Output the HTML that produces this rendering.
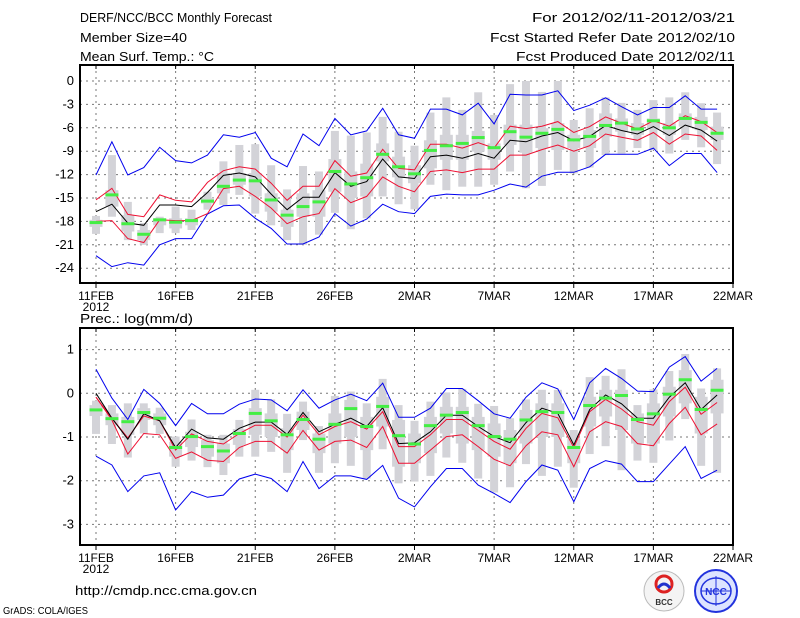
<!DOCTYPE html>
<html><head><meta charset="utf-8">
<style>
html,body{margin:0;padding:0;background:#fff;}
svg{display:block;}
text{font-family:"Liberation Sans",sans-serif;font-size:13px;fill:#000;}
</style></head>
<body>
<svg id="chart" width="800" height="618" viewBox="0 0 800 618" xmlns="http://www.w3.org/2000/svg">
  <g>
    <text x="80" y="22" textLength="192" lengthAdjust="spacingAndGlyphs">DERF/NCC/BCC Monthly Forecast</text>
    <text x="80" y="42" textLength="107" lengthAdjust="spacingAndGlyphs">Member Size=40</text>
    <text x="80" y="61" textLength="134" lengthAdjust="spacingAndGlyphs">Mean Surf. Temp.: °C</text>
    <text x="735" y="22" text-anchor="end" textLength="203" lengthAdjust="spacingAndGlyphs">For 2012/02/11-2012/03/21</text>
    <text x="735" y="42" text-anchor="end" textLength="245" lengthAdjust="spacingAndGlyphs">Fcst Started Refer Date 2012/02/10</text>
    <text x="735" y="61" text-anchor="end" textLength="219" lengthAdjust="spacingAndGlyphs">Fcst Produced Date 2012/02/11</text>
  </g>
  <g id="top"></g>
  <text x="80" y="323" textLength="113" lengthAdjust="spacingAndGlyphs">Prec.: log(mm/d)</text>
  <g id="bot"></g>
  <text x="75" y="595" textLength="182" lengthAdjust="spacingAndGlyphs">http://cmdp.ncc.cma.gov.cn</text>
  <text x="3" y="614" style="font-size:10px" textLength="85" lengthAdjust="spacingAndGlyphs">GrADS: COLA/IGES</text>
  <g>
    <circle cx="664" cy="591" r="20" fill="#f4f4f4" stroke="#bbb" stroke-width="1"/>
    <circle cx="664" cy="584" r="8" fill="none" stroke="#d22" stroke-width="3"/>
    <path d="M658 588 q6 -8 12 0" fill="none" stroke="#23c" stroke-width="3"/>
    <text x="664" y="605" text-anchor="middle" style="font-size:8px;font-weight:bold;fill:#333">BCC</text>
  </g>
  <g>
    <circle cx="716" cy="591" r="21" fill="#dde4ff" stroke="#2233dd" stroke-width="2"/>
    <ellipse cx="716" cy="591" rx="15" ry="13" fill="none" stroke="#2233dd" stroke-width="1.5"/>
    <line x1="701" y1="591" x2="731" y2="591" stroke="#2233dd"/>
    <line x1="716" y1="576" x2="716" y2="606" stroke="#2233dd"/>
    <text x="716" y="595" text-anchor="middle" style="font-size:10px;font-weight:bold;fill:#2233dd">NCC</text>
  </g>
</svg>
<script>
// ---------- data: temperature (°C) ----------
const dayLabels = ["11FEB","16FEB","21FEB","26FEB","2MAR","7MAR","12MAR","17MAR","22MAR"];
const tTicks = [0,-3,-6,-9,-12,-15,-18,-21,-24];
const tMean = [-16.75,-15.8,-18.2,-18.5,-15.9,-15.9,-16.1,-14.3,-12.1,-11.8,-12.3,-14.5,-16.5,-14.9,-14.9,-11.75,-13.5,-12.9,-10.0,-12.3,-12.5,-9.7,-9.5,-9.9,-9.3,-9.9,-7.6,-7.8,-7.05,-6.6,-7.65,-7.1,-5.7,-6.35,-6.8,-5.85,-7.0,-5.65,-6.3,-7.7];
const tRedHi = [-15.25,-13.75,-17.1,-17.4,-14.6,-15.3,-15.5,-13.0,-11.5,-11.0,-11.3,-13.1,-15.3,-13.5,-13.5,-10.2,-12.2,-11.8,-8.75,-11.2,-11.4,-8.1,-8.1,-8.6,-7.9,-8.6,-5.8,-6.1,-5.8,-5.2,-6.6,-5.85,-4.6,-5.4,-6.15,-5.1,-5.8,-4.45,-5.2,-6.6];
const tRedLo = [-18.0,-17.9,-20.2,-20.7,-17.8,-17.9,-17.9,-17.0,-13.8,-13.5,-14.8,-16.3,-18.3,-17.4,-17.0,-13.8,-15.6,-14.8,-12.3,-13.5,-14.2,-11.6,-11.4,-11.75,-11.3,-11.3,-9.5,-9.5,-8.8,-8.2,-9.0,-8.3,-6.8,-7.2,-7.6,-6.6,-8.1,-6.8,-7.05,-8.9];
const tBlueHi = [-12.05,-7.8,-12.05,-11.1,-8.5,-10.2,-10.5,-9.5,-6.9,-7.2,-6.6,-9.9,-11.0,-6.8,-8.3,-4.8,-6.9,-6.4,-3.5,-6.9,-7.35,-3.6,-3.6,-4.35,-2.85,-5.5,-1.7,-1.8,-1.8,-1.25,-3.8,-3.1,-2.15,-3.3,-4.35,-3.4,-3.4,-1.9,-3.6,-3.6];
const tBlueLo = [-22.4,-23.8,-23.3,-23.6,-21.0,-20.2,-20.2,-17.05,-16.0,-15.9,-17.6,-18.9,-20.9,-20.9,-20.0,-17.0,-18.6,-17.7,-15.8,-16.75,-17.0,-14.8,-14.5,-14.6,-14.6,-14.0,-13.2,-13.6,-12.2,-11.7,-11.7,-11.0,-9.4,-9.4,-9.4,-8.6,-10.85,-9.3,-9.3,-11.75];
const tWhiskHi = [-17.3,-9.5,-15.5,-18.2,-17.4,-16.1,-16.5,-14.2,-10.3,-8.2,-8.1,-10.8,-13.9,-10.9,-11.6,-6.4,-7.0,-6.6,-4.6,-6.5,-8.3,-4.05,-2.1,-3.7,-1.45,-4.35,-0.4,0,-1.4,0,-5.0,-3.5,-2.1,-2.8,-3.7,-2.45,-2.1,-1.45,-2.85,-4.05];
const tWhiskLo = [-19.6,-17.4,-20.4,-21.0,-19.5,-19.5,-19.1,-16.5,-15.9,-14.6,-17.0,-18.5,-20.4,-21.0,-19.7,-16.9,-19.0,-17.6,-14.8,-15.8,-16.45,-13.3,-14.0,-13.55,-13.55,-13.3,-11.6,-13.75,-13.45,-11.4,-11.85,-11.1,-9.5,-9.3,-8.6,-8.85,-9.3,-7.55,-8.5,-10.65];
const tBoxHi = [-17.8,-14.0,-17.2,-19.1,-17.6,-17.6,-17.6,-15.0,-11.8,-11.8,-11.8,-14.4,-16.5,-14.4,-14.0,-10.0,-11.6,-10.6,-8.0,-9.7,-10.8,-7.6,-6.9,-6.9,-6.4,-8.0,-5.6,-5.6,-6.05,-5.4,-6.9,-6.3,-4.15,-4.8,-5.4,-4.8,-5.4,-4.15,-4.6,-5.85];
const tBoxLo = [-18.7,-16.1,-19.3,-20.4,-18.5,-18.9,-18.5,-15.7,-14.4,-13.3,-14.8,-16.75,-18.7,-17.4,-17.4,-14.2,-15.0,-14.8,-10.3,-12.35,-13.1,-11.2,-10.1,-10.1,-9.05,-10.1,-8.2,-9.2,-8.6,-8.85,-8.6,-8.6,-7.15,-6.5,-6.9,-6.1,-6.9,-5.85,-6.3,-7.55];
const tObs = [-18.15,-14.6,-18.3,-19.65,-17.8,-18.1,-17.9,-15.4,-13.5,-12.7,-12.8,-15.25,-17.2,-16.1,-15.5,-11.6,-13.2,-12.4,-9.4,-11.0,-11.9,-8.9,-8.3,-8.0,-7.25,-8.55,-6.5,-7.2,-6.7,-6.2,-7.55,-7.1,-5.7,-5.4,-6.15,-5.1,-6.0,-4.8,-5.3,-6.7];

// ---------- data: precipitation log(mm/d) ----------
const pTicks = [1,0,-1,-2,-3];
const pMean = [0,-0.57,-1.05,-0.47,-0.63,-1.24,-0.82,-1.02,-1.05,-0.8,-0.66,-0.66,-0.94,-0.44,-0.88,-0.71,-0.57,-0.76,-0.33,-1.15,-1.13,-0.88,-0.5,-0.5,-0.76,-0.99,-1.13,-0.67,-0.34,-0.46,-1.18,-0.37,-0.04,-0.24,-0.57,-0.57,-0.09,0.24,-0.37,-0.04];
const pRedHi = [-0.09,-0.57,-1.02,-0.52,-0.63,-1.3,-0.93,-1.1,-1.16,-0.92,-0.73,-0.73,-1.0,-0.5,-0.95,-0.76,-0.65,-0.82,-0.42,-1.22,-1.22,-0.95,-0.6,-0.6,-0.85,-1.1,-1.28,-0.8,-0.46,-0.56,-1.24,-0.42,-0.14,-0.36,-0.65,-0.73,-0.19,0.14,-0.48,-0.21];
const pRedLo = [-0.09,-0.61,-1.39,-0.92,-0.95,-1.49,-1.34,-1.53,-1.56,-1.24,-1.1,-1.1,-1.37,-0.85,-1.3,-1.1,-1.07,-1.24,-0.76,-1.6,-1.6,-1.3,-0.99,-0.95,-1.22,-1.51,-1.66,-1.2,-0.88,-0.95,-1.68,-0.88,-0.65,-0.76,-1.15,-1.2,-0.69,-0.32,-0.95,-0.7];
const pBlueHi = [0.55,-0.11,-0.6,0.09,-0.23,-0.74,-0.23,-0.47,-0.47,-0.25,-0.13,-0.15,-0.4,0.08,-0.34,-0.15,-0.02,-0.17,0.23,-0.55,-0.55,-0.34,0.11,0.11,-0.17,-0.47,-0.57,-0.09,0.24,0.1,-0.6,0.24,0.57,0.34,0.05,0.04,0.6,0.84,0.28,0.57];
const pBlueLo = [-1.44,-1.64,-2.25,-1.89,-1.82,-2.67,-2.25,-2.38,-2.33,-1.96,-1.85,-1.95,-2.25,-1.56,-2.18,-1.89,-1.89,-1.97,-1.65,-2.4,-2.6,-2.14,-1.72,-1.72,-2.1,-2.29,-2.5,-2.02,-1.64,-1.76,-2.48,-1.72,-1.54,-1.62,-2.02,-2.02,-1.62,-1.22,-1.95,-1.76];
const pWhiskHi = [-0.17,-0.27,-0.23,-0.23,-0.33,-0.99,-0.6,-0.95,-0.95,-0.61,0.08,-0.14,-0.47,-0.19,-0.75,-0.06,0.04,-0.23,0.33,-0.27,-0.63,-0.19,0.02,0.1,-0.24,-0.29,-0.57,-0.14,0.08,0.08,-0.84,0.37,0.4,0.55,-0.27,0.09,0.51,0.9,0.11,0.57];
const pWhiskLo = [-0.93,-1.16,-1.47,-0.92,-0.93,-1.68,-1.54,-1.69,-1.87,-1.45,-1.45,-1.34,-1.82,-1.07,-1.82,-1.6,-1.66,-1.95,-1.28,-2.06,-2.02,-1.89,-1.47,-1.59,-1.95,-2.27,-2.15,-1.62,-1.89,-1.68,-2.16,-1.39,-1.21,-1.76,-1.54,-1.59,-1.08,-0.59,-1.66,-1.82];
const pBoxHi = [-0.27,-0.46,-0.54,-0.34,-0.46,-1.11,-0.88,-1.07,-1.15,-0.82,-0.34,-0.46,-0.8,-0.42,-0.92,-0.46,-0.15,-0.54,-0.08,-0.61,-0.92,-0.54,-0.31,-0.31,-0.54,-0.69,-0.84,-0.38,-0.23,-0.23,-1.03,-0.08,0.08,0.08,-0.46,-0.23,0.15,0.53,-0.08,0.31];
const pBoxLo = [-0.52,-0.73,-0.95,-0.61,-0.73,-1.45,-1.23,-1.45,-1.6,-1.18,-0.95,-1.0,-1.3,-0.84,-1.37,-1.15,-1.0,-1.3,-0.76,-1.68,-1.6,-1.37,-0.92,-1.15,-1.3,-1.45,-1.6,-1.15,-1.0,-1.0,-1.6,-0.76,-0.53,-0.84,-1.15,-1.15,-0.53,-0.23,-0.92,-0.46];
const pObs = [-0.38,-0.58,-0.65,-0.44,-0.57,-1.24,-0.99,-1.22,-1.32,-0.92,-0.46,-0.63,-0.95,-0.6,-1.05,-0.71,-0.35,-0.76,-0.3,-0.97,-1.16,-0.74,-0.5,-0.44,-0.74,-0.99,-1.05,-0.61,-0.42,-0.44,-1.24,-0.28,-0.11,-0.05,-0.6,-0.47,-0.02,0.31,-0.37,0.07];

const NS = "http://www.w3.org/2000/svg";
function mk(parent, tag, attrs){
  const e = document.createElementNS(NS, tag);
  for (const k in attrs) e.setAttribute(k, attrs[k]);
  parent.appendChild(e);
  return e;
}
function xDay(d){ return 96 + d * 15.925; }

function drawPanel(g, cfg){
  const L = 80, R = 733, T = cfg.top, B = cfg.bottom;
  // grid
  cfg.ticks.forEach(v => {
    const y = cfg.y(v);
    const gl = mk(g, "line", {x1:L, x2:R, y1:y, y2:y, stroke:"#777", "stroke-width":1, "stroke-dasharray":"2,4"});
    
    
    const t = mk(g, "text", {x:L-6, y:y+4, "text-anchor":"end"});
    t.textContent = (v < 0 ? "\u2212" + (-v) : String(v)).replace("\u2212","-");
    
    
  });
  dayLabels.forEach((lab, i) => {
    const x = xDay(i * 5);
    if (i < dayLabels.length - 1) {
      const gl = mk(g, "line", {x1:x, x2:x, y1:T, y2:B, stroke:"#777", "stroke-width":1, "stroke-dasharray":"2,4"});
      
      
    }
    const tk = mk(g, "line", {x1:x, x2:x, y1:B, y2:B+5, stroke:"#000", "stroke-width":1});
    
    
    const tt = mk(g, "line", {x1:x, x2:x, y1:T, y2:T+4, stroke:"#000", "stroke-width":1});
    
    
    const t = mk(g, "text", {x:x, y:B+17, "text-anchor":"middle", style:"font-size:12px"});
    t.textContent = lab;
    
    
  });
  const yr = mk(g, "text", {x:xDay(0), y:B+28, "text-anchor":"middle", style:"font-size:12px"});
  yr.textContent = "2012";
  
  

  // bars
  const d = cfg.data;
  d.whiskHi.forEach((_, i) => {
    const x = xDay(i);
    const w = mk(g, "rect", {x:x-4, y:cfg.y(d.whiskHi[i]), width:8, height:Math.max(1, cfg.y(d.whiskLo[i]) - cfg.y(d.whiskHi[i])), fill:"#d3d3d8"});
    
    
    const b = mk(g, "rect", {x:x-6.5, y:cfg.y(d.boxHi[i]), width:13, height:Math.max(1, cfg.y(d.boxLo[i]) - cfg.y(d.boxHi[i])), fill:"#d3d3d8"});
    
    
  });
  // lines
  const series = [
    [d.blueHi, "#0000ee", "upper-blue-line"],
    [d.blueLo, "#0000ee", "lower-blue-line"],
    [d.redHi, "#ee1133", "upper-red-line"],
    [d.redLo, "#ee1133", "lower-red-line"],
    [d.mean, "#000000", "ensemble-mean-line"]
  ];
  series.forEach(s => {
    const pts = s[0].map((v, i) => xDay(i).toFixed(1) + "," + cfg.y(v).toFixed(1)).join(" ");
    const pl = mk(g, "polyline", {points:pts, fill:"none", stroke:s[1], "stroke-width":1});
    
    
  });
  // obs markers
  d.obs.forEach((v, i) => {
    const r = mk(g, "rect", {x:xDay(i)-6.5, y:cfg.y(v)-1.5, width:13, height:3, fill:"#44ee44"});
    
    
  });
  // frame
  const fr = mk(g, "rect", {x:L, y:T, width:R-L, height:B-T, fill:"none", stroke:"#000", "stroke-width":2});
  
  
}

drawPanel(document.getElementById("top"), {
  top:65, bottom:283, ticks:tTicks,
  y: v => 81 - 7.8 * v,
  data:{mean:tMean, redHi:tRedHi, redLo:tRedLo, blueHi:tBlueHi, blueLo:tBlueLo,
        whiskHi:tWhiskHi, whiskLo:tWhiskLo, boxHi:tBoxHi, boxLo:tBoxLo, obs:tObs}
});
drawPanel(document.getElementById("bot"), {
  top:328, bottom:545, ticks:pTicks,
  y: v => 393.3 - 43.7 * v,
  data:{mean:pMean, redHi:pRedHi, redLo:pRedLo, blueHi:pBlueHi, blueLo:pBlueLo,
        whiskHi:pWhiskHi, whiskLo:pWhiskLo, boxHi:pBoxHi, boxLo:pBoxLo, obs:pObs}
});
</script>
</body></html>
